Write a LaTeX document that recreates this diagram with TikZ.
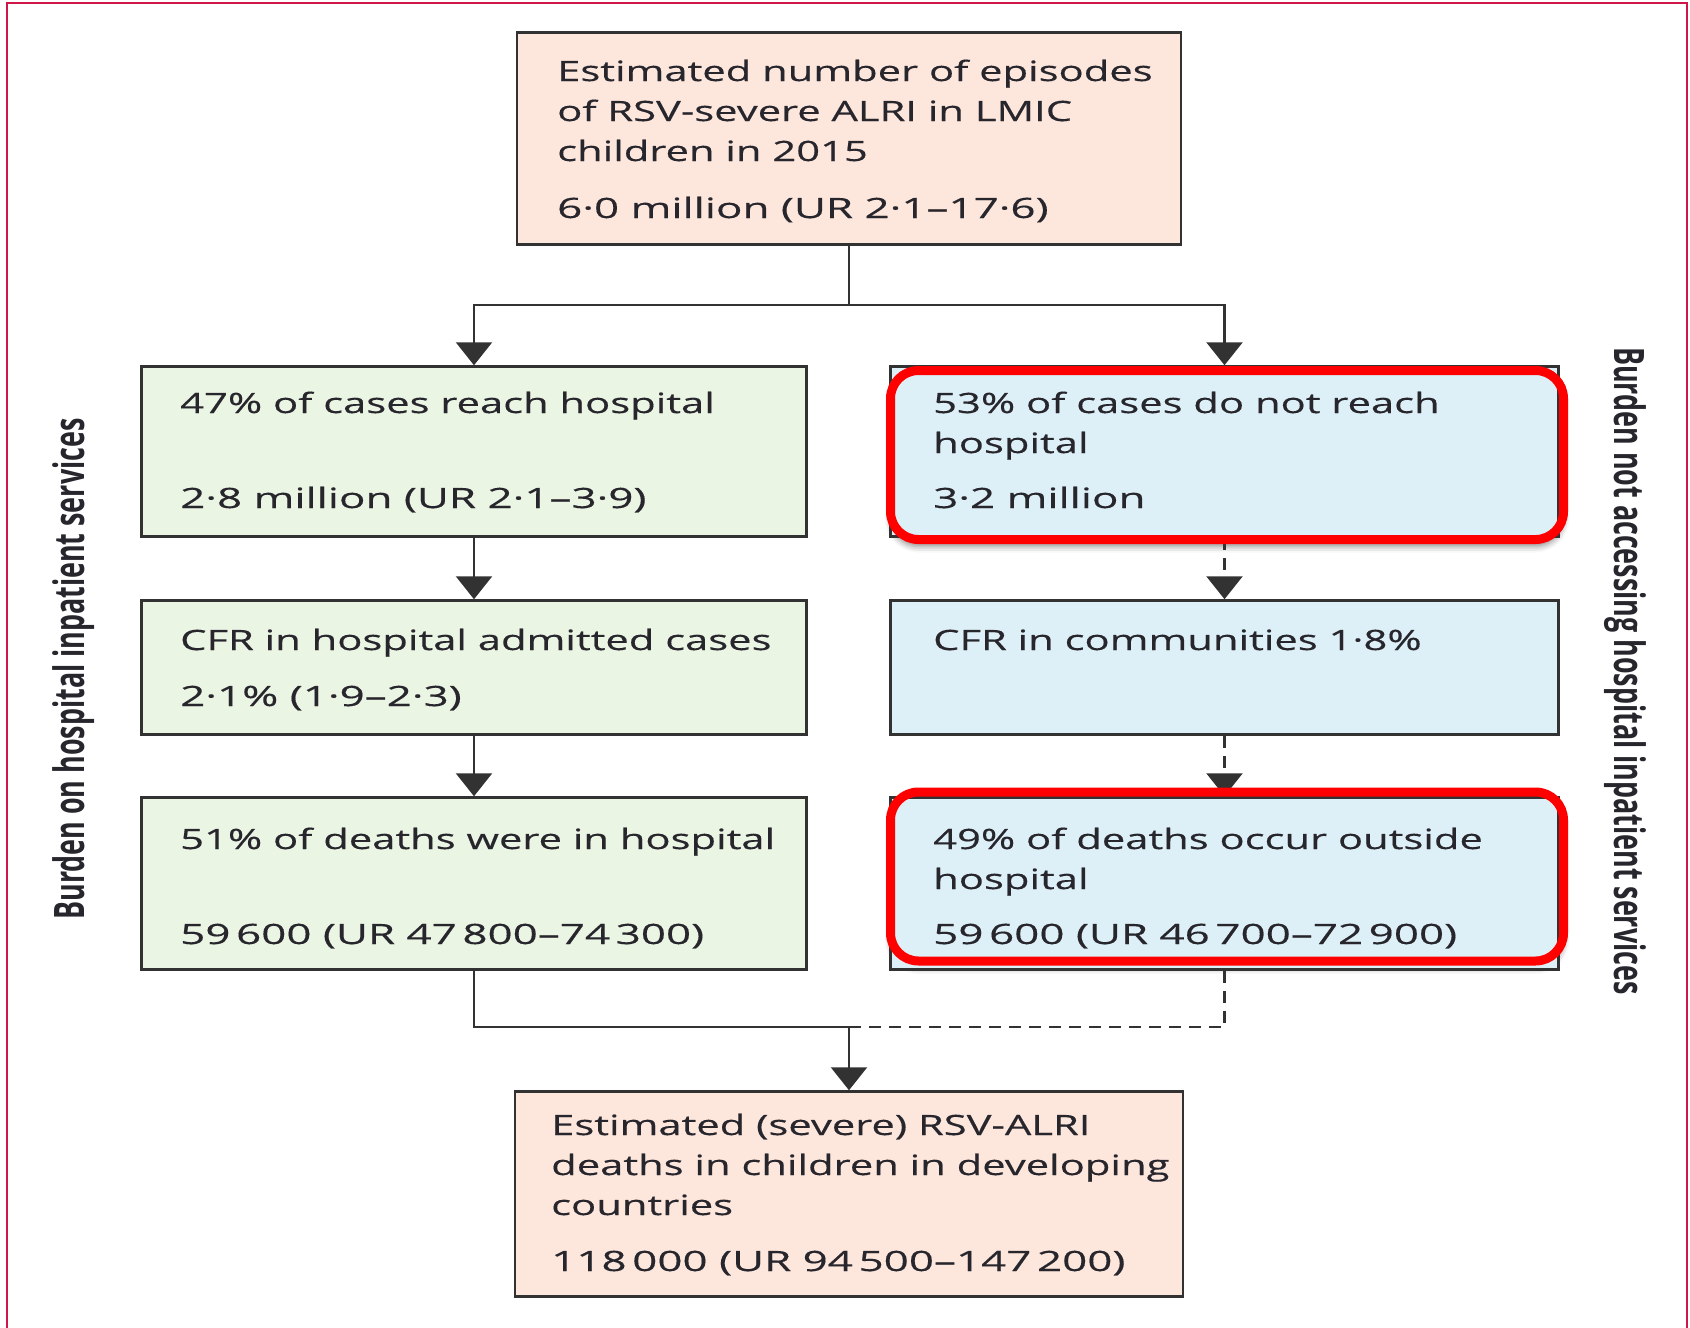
\documentclass[tikz,border=0pt]{standalone}
\usepackage{fontspec}
\setmainfont{Open Sans}
\newfontfamily\boxfont[FakeStretch=1.49,FakeBold=0.4]{Open Sans}
\newfontfamily\numfont[FakeStretch=1.57,FakeBold=0.4]{Open Sans}
\newfontfamily\sidefont[FakeStretch=0.64]{Open Sans}
\newcommand{\nsp}{\kern0.2em}
\usetikzlibrary{arrows.meta,shadows.blur}
\definecolor{peach}{RGB}{253,231,221}
\definecolor{leaf}{RGB}{235,245,228}
\definecolor{sky}{RGB}{221,240,247}
\definecolor{boxline}{RGB}{50,50,50}
\definecolor{ink}{RGB}{40,38,45}
\definecolor{alarm}{RGB}{255,0,0}
\definecolor{pageline}{RGB}{206,22,72}
\begin{document}
\begin{tikzpicture}[x=1pt,y=-1pt]
    \tikzset{
      box/.style={draw=boxline, line width=2.5pt, inner sep=0pt},
      txt/.style={anchor=base west, inner sep=0pt, align=left, text=ink, font=\boxfont\fontsize{28}{40}\selectfont},
      side/.style={inner sep=0pt, text=ink, font=\sidefont\bfseries\fontsize{42}{44}\selectfont},
      link/.style={draw=boxline, line width=2.5pt},
      flow/.style={link, -{Triangle[width=36pt,length=23pt]}},
      gap/.style={dash pattern=on 12pt off 8pt},
      hilite/.style={draw=alarm, line width=9pt, rounded corners=28pt, minimum width=673pt, minimum height=169pt, inner sep=0pt},
      hishadow/.style={hilite, draw=none, blur shadow={shadow xshift=0pt, shadow yshift=-7pt, shadow blur radius=6pt, shadow opacity=45}}
    }
    \useasboundingbox (0,0) rectangle (1690,1328);
    \draw[pageline, line width=2.5pt] (7,3) rectangle (1687,1345);
    \node[side, rotate=90] (lside) at (74,669) {Burden on hospital inpatient services};
    \node[side, rotate=-90] (rside) at (1625,671) {Burden not accessing hospital inpatient services};
    \node[hishadow] (hl1-sh) at (1227,455) {};
    \node[hishadow] (hl2-sh) at (1227,876.5) {};
    \node[box, fill=peach, minimum width=664pt, minimum height=212pt] (top) at (849,138.5) {};
    \node[box, fill=leaf, minimum width=665pt, minimum height=170pt] (hosp1) at (474,451.5) {};
    \node[box, fill=sky, minimum width=668pt, minimum height=170pt] (comm1) at (1224.5,451.5) {};
    \node[box, fill=leaf, minimum width=665pt, minimum height=134pt] (hosp2) at (474,667.5) {};
    \node[box, fill=sky, minimum width=668pt, minimum height=134pt] (comm2) at (1224.5,667.5) {};
    \node[box, fill=leaf, minimum width=665pt, minimum height=172pt] (hosp3) at (474,883.5) {};
    \node[box, fill=sky, minimum width=668pt, minimum height=172pt] (comm3) at (1224.5,883.5) {};
    \node[box, fill=peach, minimum width=668pt, minimum height=205pt] (total) at (849,1194) {};
    \node[txt] (top-t) at (557,218) {Estimated number of episodes\\of RSV-severe ALRI in LMIC\\children in 2015\\[17pt]{\numfont 6·0 million (UR 2·1–17·6)}};
    \node[txt] (hosp1-t) at (180,508) {47\% of cases reach hospital\\[55pt]{\numfont 2·8 million (UR 2·1–3·9)}};
    \node[txt] (comm1-t) at (933,508) {53\% of cases do not reach\\hospital\\[15pt]{\numfont 3·2 million}};
    \node[txt] (hosp2-t) at (180,706) {CFR in hospital admitted cases\\[16pt]{\numfont 2·1\% (1·9–2·3)}};
    \node[txt] (comm2-t) at (933,650) {CFR in communities 1·8\%};
    \node[txt] (hosp3-t) at (180,944) {51\% of deaths were in hospital\\[55pt]{\numfont 59\nsp600 (UR 47\nsp800–74\nsp300)}};
    \node[txt] (comm3-t) at (933,944) {49\% of deaths occur outside\\hospital\\[15pt]{\numfont 59\nsp600 (UR 46\nsp700–72\nsp900)}};
    \node[txt] (total-t) at (551,1271) {Estimated (severe) RSV-ALRI\\deaths in children in developing\\countries\\[16pt]{\numfont 118\nsp000 (UR 94\nsp500–147\nsp200)}};
    \coordinate (split) at (849,305);
    \coordinate (merge) at (849,1027);
    \draw[link] (top.south) -- (split);
    \draw[flow] (split) -| (hosp1.north);
    \draw[flow] (split) -| (comm1.north);
    \draw[flow] (hosp1.south) -- (hosp2.north);
    \draw[flow] (hosp2.south) -- (hosp3.north);
    \draw[flow, gap] (comm1.south) -- (comm2.north);
    \draw[flow, gap] (comm2.south) -- (comm3.north);
    \draw[link] (hosp3.south) |- (merge);
    \draw[link, gap] (comm3.south) |- (merge);
    \draw[flow] (merge) -- (total.north);
    \node[hilite] (hl1) at (1227,455) {};
    \node[hilite] (hl2) at (1227,876.5) {};
\end{tikzpicture}
\end{document}
